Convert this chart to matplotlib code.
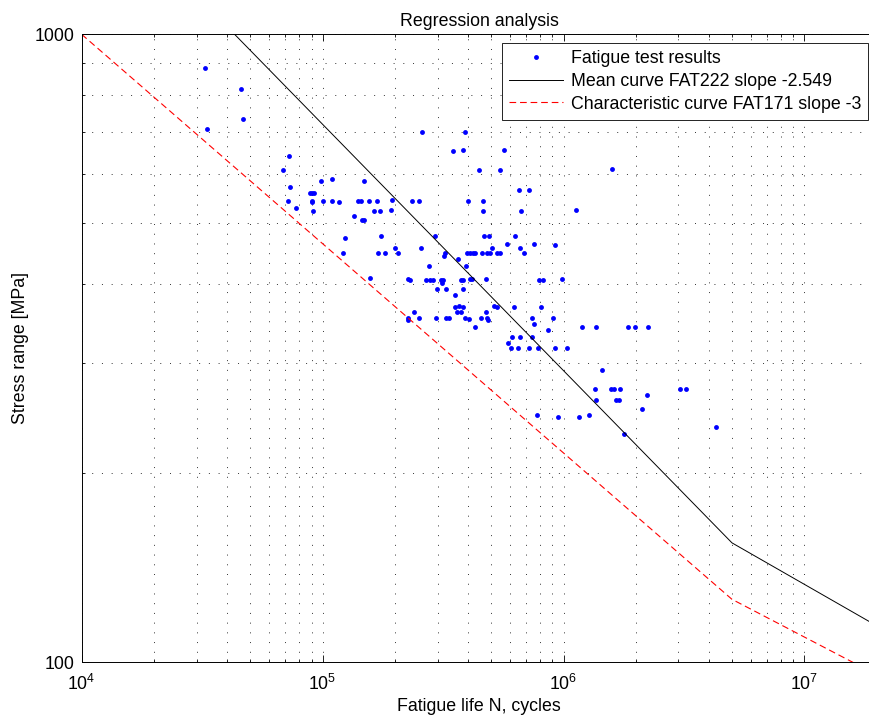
import numpy as np
import matplotlib
matplotlib.use("Agg")
import matplotlib.pyplot as plt
from matplotlib.ticker import LogLocator, NullFormatter, FixedLocator, FixedFormatter

plt.rcParams['font.family'] = ['Liberation Sans', 'DejaVu Sans']
plt.rcParams['font.size'] = 12.8
plt.rcParams['mathtext.fontset'] = 'custom'
plt.rcParams['mathtext.rm'] = 'Liberation Sans'

## fatigue test results: cycles to failure and stress range [MPa]
life_n = [32500, 45900, 46900, 33100,
          72700, 68500, 73400, 98800, 109700, 149000,
          88900, 90600, 92400,
          72000, 90400, 90800, 100700, 109100, 116600, 140700, 143900, 156200,
          168700, 194100, 234300, 250500, 400000, 463000,
          77500, 91700, 163400, 173000, 193200, 464300, 663700, 1122600,
          135000, 145300, 148900,
          258500, 388700, 346600, 383600, 565700, 446900, 546000, 1588000,
          654900, 720500,
          123900, 174200, 291800, 469700, 492700, 629700,
          121900, 169300, 182100, 200300, 205500, 256800, 321100, 320500, 363600,
          397400, 408900, 420000, 429800, 458500, 481100, 493600, 505500, 530300,
          547000, 580500, 659400, 687000, 751300, 919400,
          277700, 392500, 157700, 225500, 229800, 268500, 279600, 288500, 309000,
          316800, 312900, 375200, 383200, 409700, 416900, 477900, 790400, 820400,
          987600, 298400, 325100, 383600, 355300,
          516800, 529300, 620900, 805600, 356000, 369800, 381300, 360500, 376000,
          477900, 239500, 226200, 225500, 252400, 294600, 325100, 334600, 389900,
          405100, 452900, 483400, 488000, 737100, 755100, 905400, 429000, 860000,
          610800, 659400, 740600, 586100, 606700, 648600, 720500, 786700, 919400,
          1030000, 1189000, 1367000, 1845000, 1984000, 2234000,
          1443000, 1350000, 1568000, 1623000, 1709000, 1363000, 1654000, 1702000,
          2225000, 2109000, 3050000, 3211000, 775400, 948000, 1158000, 1278000,
          1786000, 4277000]
stress = [884, 818, 734, 707,
          641, 608, 572, 584, 589, 584,
          558, 558, 558,
          543, 543, 540, 543, 543, 540, 543, 543, 542,
          542, 544, 543, 543, 543, 543,
          528, 524, 524, 524, 526, 524, 523, 525,
          514, 507, 507,
          698, 699, 653, 654, 655, 607, 609, 610,
          565, 565,
          473, 477, 478, 478, 478, 478,
          448, 448, 448, 456, 448, 457, 448, 443, 438,
          448, 448, 448, 448, 448, 448, 448, 456, 448,
          448, 464, 456, 448, 464, 461,
          428, 428, 409, 407, 406, 406, 406, 406, 406,
          406, 402, 406, 406, 407, 407, 408, 406, 406,
          407, 393, 393, 393, 385,
          369, 368, 368, 368, 368, 369, 368, 361, 361,
          361, 361, 354, 351, 354, 354, 353, 354, 353,
          352, 353, 354, 351, 354, 346, 354, 342, 338,
          330, 330, 330, 322, 317, 317, 317, 317, 317,
          317, 342, 342, 342, 342, 342,
          292, 272, 272, 272, 272, 262, 262, 262,
          266, 253, 272, 272, 248, 246, 246, 248,
          231, 237]

## S-N curves (knee point at 5e6 cycles, slope m+2 beyond it)
n_ref = 2e6
n_knee = 5e6
n_curve = np.array([1e4, n_knee, 2e7])
fat_mean, m_mean = 222, 2.549
fat_char, m_char = 171, 3

def sn_curve(fat, m, n):
    s_knee = fat * (n_ref / n_knee) ** (1 / m)
    return np.where(n <= n_knee,
                    fat * (n_ref / n) ** (1 / m),
                    s_knee * (n_knee / n) ** (1 / (m + 2)))

fig = plt.figure(figsize=(8.7, 7.2), dpi=100)
ax = fig.add_axes([81.6 / 870, 1 - 662.3 / 720, (877 - 81.6) / 870, 628 / 720])

ax.plot(life_n, stress, 'o', color='blue', markersize=3.5, markeredgewidth=0,
        label='Fatigue test results')
ax.plot(n_curve, sn_curve(fat_mean, m_mean, n_curve), '-', color='black', lw=0.7,
        label='Mean curve FAT%d slope -%g' % (fat_mean, m_mean))
ax.plot(n_curve, sn_curve(fat_char, m_char, n_curve), '--', color='red', lw=0.8,
        dashes=(6, 3.5), label='Characteristic curve FAT%d slope -%g' % (fat_char, m_char))

ax.set_xscale('log')
ax.set_yscale('log')
ax.set_xlim(1e4, 2e7)
ax.set_ylim(100, 1000)

ax.xaxis.set_major_locator(LogLocator(base=10, numticks=10))
ax.xaxis.set_minor_locator(LogLocator(base=10, subs=np.arange(2, 10), numticks=20))
ax.xaxis.set_minor_formatter(NullFormatter())
ax.yaxis.set_major_locator(FixedLocator([100, 1000]))
ax.yaxis.set_major_formatter(FixedFormatter(['100', '1000']))
ax.yaxis.set_minor_locator(FixedLocator(np.arange(200, 1000, 100)))
ax.yaxis.set_minor_formatter(NullFormatter())

ax.grid(True, which='both', linestyle=(0, (1, 9)), color='0.2', linewidth=0.7)
ax.tick_params(which='both', direction='in', top=True, right=True, colors='black')
ax.tick_params(which='major', length=5, width=0.6)
ax.tick_params(which='minor', length=2.5, width=0.6)
ax.tick_params(axis='x', which='major', pad=8)
ax.tick_params(axis='y', which='major', pad=5)
for sp in ax.spines.values():
    sp.set_linewidth(0.7)

ax.set_title('Regression analysis', fontsize=12.8, pad=6)
ax.set_xlabel('Fatigue life N, cycles', labelpad=3)
ax.set_ylabel('Stress range [MPa]', labelpad=4)

leg = ax.legend(loc='upper right', fancybox=False, edgecolor='black', framealpha=1,
                handlelength=3.0, handletextpad=0.45, labelspacing=0.32,
                borderpad=0.4, borderaxespad=0.5, numpoints=1)
leg.get_frame().set_linewidth(0.6)

fig.savefig('out.png', dpi=100)
